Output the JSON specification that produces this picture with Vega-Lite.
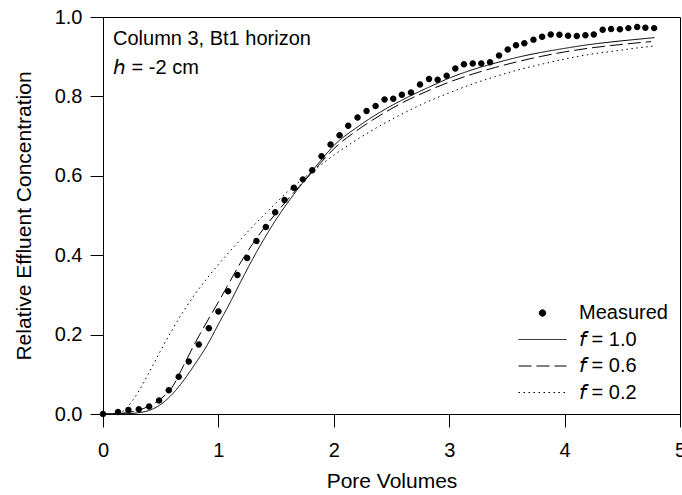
{
  "$schema": "https://vega.github.io/schema/vega-lite/v6.json",
  "width": 577,
  "height": 397,
  "autosize": {"type": "none"},
  "padding": {"left": 103, "top": 17, "right": 2, "bottom": 81},
  "background": "white",
  "title": {
    "text": "Column 3, Bt1 horizon",
    "subtitle": "𝘩 = -2 cm",
    "anchor": "start",
    "frame": "group",
    "orient": "top",
    "offset": -71,
    "dx": 10,
    "font": "Liberation Sans",
    "fontSize": 20,
    "fontWeight": "normal",
    "color": "black",
    "subtitleFont": "Liberation Sans",
    "subtitleFontSize": 20,
    "subtitleColor": "black",
    "subtitlePadding": 9
  },
  "config": {
    "view": {"stroke": "black", "strokeWidth": 1},
    "axis": {
      "grid": false,
      "domainColor": "black",
      "domainWidth": 1,
      "tickColor": "black",
      "tickSize": 13,
      "tickWidth": 1,
      "labelColor": "black",
      "labelFont": "Liberation Sans",
      "labelFontSize": 20,
      "titleFont": "Liberation Sans",
      "titleFontSize": 21,
      "titleFontWeight": "normal",
      "titleColor": "black"
    },
    "legend": {
      "labelFont": "Liberation Sans",
      "labelFontSize": 20,
      "labelColor": "black"
    }
  },
  "datasets": {
    "measured": [
      {"pv": 0, "c": 0, "series": "Measured"},
      {"pv": 0.13, "c": 0.005, "series": "Measured"},
      {"pv": 0.22, "c": 0.01, "series": "Measured"},
      {"pv": 0.31, "c": 0.012, "series": "Measured"},
      {"pv": 0.40, "c": 0.019, "series": "Measured"},
      {"pv": 0.486, "c": 0.034, "series": "Measured"},
      {"pv": 0.57, "c": 0.06, "series": "Measured"},
      {"pv": 0.656, "c": 0.094, "series": "Measured"},
      {"pv": 0.743, "c": 0.132, "series": "Measured"},
      {"pv": 0.83, "c": 0.175, "series": "Measured"},
      {"pv": 0.917, "c": 0.216, "series": "Measured"},
      {"pv": 1.0, "c": 0.258, "series": "Measured"},
      {"pv": 1.084, "c": 0.309, "series": "Measured"},
      {"pv": 1.165, "c": 0.35, "series": "Measured"},
      {"pv": 1.249, "c": 0.393, "series": "Measured"},
      {"pv": 1.33, "c": 0.436, "series": "Measured"},
      {"pv": 1.411, "c": 0.471, "series": "Measured"},
      {"pv": 1.492, "c": 0.508, "series": "Measured"},
      {"pv": 1.573, "c": 0.539, "series": "Measured"},
      {"pv": 1.654, "c": 0.57, "series": "Measured"},
      {"pv": 1.732, "c": 0.591, "series": "Measured"},
      {"pv": 1.813, "c": 0.614, "series": "Measured"},
      {"pv": 1.894, "c": 0.649, "series": "Measured"},
      {"pv": 1.972, "c": 0.679, "series": "Measured"},
      {"pv": 2.05, "c": 0.702, "series": "Measured"},
      {"pv": 2.125, "c": 0.726, "series": "Measured"},
      {"pv": 2.206, "c": 0.747, "series": "Measured"},
      {"pv": 2.284, "c": 0.763, "series": "Measured"},
      {"pv": 2.362, "c": 0.776, "series": "Measured"},
      {"pv": 2.44, "c": 0.792, "series": "Measured"},
      {"pv": 2.515, "c": 0.794, "series": "Measured"},
      {"pv": 2.59, "c": 0.804, "series": "Measured"},
      {"pv": 2.669, "c": 0.81, "series": "Measured"},
      {"pv": 2.747, "c": 0.83, "series": "Measured"},
      {"pv": 2.825, "c": 0.844, "series": "Measured"},
      {"pv": 2.9, "c": 0.842, "series": "Measured"},
      {"pv": 2.978, "c": 0.852, "series": "Measured"},
      {"pv": 3.053, "c": 0.87, "series": "Measured"},
      {"pv": 3.128, "c": 0.881, "series": "Measured"},
      {"pv": 3.204, "c": 0.883, "series": "Measured"},
      {"pv": 3.278, "c": 0.883, "series": "Measured"},
      {"pv": 3.354, "c": 0.886, "series": "Measured"},
      {"pv": 3.432, "c": 0.903, "series": "Measured"},
      {"pv": 3.507, "c": 0.918, "series": "Measured"},
      {"pv": 3.579, "c": 0.929, "series": "Measured"},
      {"pv": 3.651, "c": 0.934, "series": "Measured"},
      {"pv": 3.73, "c": 0.943, "series": "Measured"},
      {"pv": 3.805, "c": 0.95, "series": "Measured"},
      {"pv": 3.88, "c": 0.956, "series": "Measured"},
      {"pv": 3.955, "c": 0.955, "series": "Measured"},
      {"pv": 4.03, "c": 0.953, "series": "Measured"},
      {"pv": 4.106, "c": 0.952, "series": "Measured"},
      {"pv": 4.18, "c": 0.954, "series": "Measured"},
      {"pv": 4.253, "c": 0.956, "series": "Measured"},
      {"pv": 4.33, "c": 0.968, "series": "Measured"},
      {"pv": 4.403, "c": 0.97, "series": "Measured"},
      {"pv": 4.479, "c": 0.969, "series": "Measured"},
      {"pv": 4.553, "c": 0.972, "series": "Measured"},
      {"pv": 4.629, "c": 0.975, "series": "Measured"},
      {"pv": 4.7, "c": 0.973, "series": "Measured"},
      {"pv": 4.776, "c": 0.972, "series": "Measured"}
    ],
    "model": [
      {"pv": 0, "c": 0, "series": "𝘧 = 1.0"},
      {"pv": 0.1, "c": 0, "series": "𝘧 = 1.0"},
      {"pv": 0.2, "c": 0.0005, "series": "𝘧 = 1.0"},
      {"pv": 0.3, "c": 0.003, "series": "𝘧 = 1.0"},
      {"pv": 0.4, "c": 0.009, "series": "𝘧 = 1.0"},
      {"pv": 0.5, "c": 0.024, "series": "𝘧 = 1.0"},
      {"pv": 0.6, "c": 0.05, "series": "𝘧 = 1.0"},
      {"pv": 0.7, "c": 0.085, "series": "𝘧 = 1.0"},
      {"pv": 0.8, "c": 0.127, "series": "𝘧 = 1.0"},
      {"pv": 0.9, "c": 0.172, "series": "𝘧 = 1.0"},
      {"pv": 1.0, "c": 0.226, "series": "𝘧 = 1.0"},
      {"pv": 1.1, "c": 0.28, "series": "𝘧 = 1.0"},
      {"pv": 1.2, "c": 0.337, "series": "𝘧 = 1.0"},
      {"pv": 1.3, "c": 0.392, "series": "𝘧 = 1.0"},
      {"pv": 1.4, "c": 0.443, "series": "𝘧 = 1.0"},
      {"pv": 1.5, "c": 0.49, "series": "𝘧 = 1.0"},
      {"pv": 1.6, "c": 0.532, "series": "𝘧 = 1.0"},
      {"pv": 1.7, "c": 0.571, "series": "𝘧 = 1.0"},
      {"pv": 1.8, "c": 0.608, "series": "𝘧 = 1.0"},
      {"pv": 1.9, "c": 0.643, "series": "𝘧 = 1.0"},
      {"pv": 2.0, "c": 0.676, "series": "𝘧 = 1.0"},
      {"pv": 2.2, "c": 0.722, "series": "𝘧 = 1.0"},
      {"pv": 2.4, "c": 0.76, "series": "𝘧 = 1.0"},
      {"pv": 2.6, "c": 0.792, "series": "𝘧 = 1.0"},
      {"pv": 2.8, "c": 0.82, "series": "𝘧 = 1.0"},
      {"pv": 3.0, "c": 0.846, "series": "𝘧 = 1.0"},
      {"pv": 3.2, "c": 0.867, "series": "𝘧 = 1.0"},
      {"pv": 3.4, "c": 0.884, "series": "𝘧 = 1.0"},
      {"pv": 3.6, "c": 0.899, "series": "𝘧 = 1.0"},
      {"pv": 3.8, "c": 0.911, "series": "𝘧 = 1.0"},
      {"pv": 4.0, "c": 0.921, "series": "𝘧 = 1.0"},
      {"pv": 4.2, "c": 0.93, "series": "𝘧 = 1.0"},
      {"pv": 4.4, "c": 0.937, "series": "𝘧 = 1.0"},
      {"pv": 4.6, "c": 0.943, "series": "𝘧 = 1.0"},
      {"pv": 4.78, "c": 0.948, "series": "𝘧 = 1.0"},
      {"pv": 0, "c": 0, "series": "𝘧 = 0.6"},
      {"pv": 0.1, "c": 0.0005, "series": "𝘧 = 0.6"},
      {"pv": 0.2, "c": 0.003, "series": "𝘧 = 0.6"},
      {"pv": 0.3, "c": 0.009, "series": "𝘧 = 0.6"},
      {"pv": 0.4, "c": 0.02, "series": "𝘧 = 0.6"},
      {"pv": 0.5, "c": 0.038, "series": "𝘧 = 0.6"},
      {"pv": 0.6, "c": 0.068, "series": "𝘧 = 0.6"},
      {"pv": 0.7, "c": 0.123, "series": "𝘧 = 0.6"},
      {"pv": 0.8, "c": 0.18, "series": "𝘧 = 0.6"},
      {"pv": 0.9, "c": 0.232, "series": "𝘧 = 0.6"},
      {"pv": 1.0, "c": 0.282, "series": "𝘧 = 0.6"},
      {"pv": 1.1, "c": 0.334, "series": "𝘧 = 0.6"},
      {"pv": 1.2, "c": 0.385, "series": "𝘧 = 0.6"},
      {"pv": 1.3, "c": 0.43, "series": "𝘧 = 0.6"},
      {"pv": 1.4, "c": 0.47, "series": "𝘧 = 0.6"},
      {"pv": 1.5, "c": 0.506, "series": "𝘧 = 0.6"},
      {"pv": 1.6, "c": 0.54, "series": "𝘧 = 0.6"},
      {"pv": 1.7, "c": 0.573, "series": "𝘧 = 0.6"},
      {"pv": 1.8, "c": 0.605, "series": "𝘧 = 0.6"},
      {"pv": 1.9, "c": 0.637, "series": "𝘧 = 0.6"},
      {"pv": 2.0, "c": 0.668, "series": "𝘧 = 0.6"},
      {"pv": 2.2, "c": 0.714, "series": "𝘧 = 0.6"},
      {"pv": 2.4, "c": 0.752, "series": "𝘧 = 0.6"},
      {"pv": 2.6, "c": 0.785, "series": "𝘧 = 0.6"},
      {"pv": 2.8, "c": 0.812, "series": "𝘧 = 0.6"},
      {"pv": 3.0, "c": 0.836, "series": "𝘧 = 0.6"},
      {"pv": 3.2, "c": 0.856, "series": "𝘧 = 0.6"},
      {"pv": 3.4, "c": 0.873, "series": "𝘧 = 0.6"},
      {"pv": 3.6, "c": 0.888, "series": "𝘧 = 0.6"},
      {"pv": 3.8, "c": 0.901, "series": "𝘧 = 0.6"},
      {"pv": 4.0, "c": 0.912, "series": "𝘧 = 0.6"},
      {"pv": 4.2, "c": 0.921, "series": "𝘧 = 0.6"},
      {"pv": 4.4, "c": 0.928, "series": "𝘧 = 0.6"},
      {"pv": 4.6, "c": 0.934, "series": "𝘧 = 0.6"},
      {"pv": 4.75, "c": 0.938, "series": "𝘧 = 0.6"},
      {"pv": 0, "c": 0, "series": "𝘧 = 0.2"},
      {"pv": 0.1, "c": 0, "series": "𝘧 = 0.2"},
      {"pv": 0.15, "c": 0.003, "series": "𝘧 = 0.2"},
      {"pv": 0.2, "c": 0.014, "series": "𝘧 = 0.2"},
      {"pv": 0.3, "c": 0.053, "series": "𝘧 = 0.2"},
      {"pv": 0.4, "c": 0.105, "series": "𝘧 = 0.2"},
      {"pv": 0.5, "c": 0.16, "series": "𝘧 = 0.2"},
      {"pv": 0.6, "c": 0.212, "series": "𝘧 = 0.2"},
      {"pv": 0.7, "c": 0.26, "series": "𝘧 = 0.2"},
      {"pv": 0.8, "c": 0.303, "series": "𝘧 = 0.2"},
      {"pv": 0.9, "c": 0.341, "series": "𝘧 = 0.2"},
      {"pv": 1.0, "c": 0.377, "series": "𝘧 = 0.2"},
      {"pv": 1.1, "c": 0.41, "series": "𝘧 = 0.2"},
      {"pv": 1.2, "c": 0.442, "series": "𝘧 = 0.2"},
      {"pv": 1.3, "c": 0.473, "series": "𝘧 = 0.2"},
      {"pv": 1.4, "c": 0.503, "series": "𝘧 = 0.2"},
      {"pv": 1.5, "c": 0.532, "series": "𝘧 = 0.2"},
      {"pv": 1.6, "c": 0.56, "series": "𝘧 = 0.2"},
      {"pv": 1.7, "c": 0.585, "series": "𝘧 = 0.2"},
      {"pv": 1.8, "c": 0.608, "series": "𝘧 = 0.2"},
      {"pv": 1.9, "c": 0.63, "series": "𝘧 = 0.2"},
      {"pv": 2.0, "c": 0.652, "series": "𝘧 = 0.2"},
      {"pv": 2.2, "c": 0.691, "series": "𝘧 = 0.2"},
      {"pv": 2.4, "c": 0.726, "series": "𝘧 = 0.2"},
      {"pv": 2.6, "c": 0.757, "series": "𝘧 = 0.2"},
      {"pv": 2.8, "c": 0.785, "series": "𝘧 = 0.2"},
      {"pv": 3.0, "c": 0.809, "series": "𝘧 = 0.2"},
      {"pv": 3.2, "c": 0.831, "series": "𝘧 = 0.2"},
      {"pv": 3.4, "c": 0.85, "series": "𝘧 = 0.2"},
      {"pv": 3.6, "c": 0.867, "series": "𝘧 = 0.2"},
      {"pv": 3.8, "c": 0.881, "series": "𝘧 = 0.2"},
      {"pv": 4.0, "c": 0.894, "series": "𝘧 = 0.2"},
      {"pv": 4.2, "c": 0.905, "series": "𝘧 = 0.2"},
      {"pv": 4.4, "c": 0.913, "series": "𝘧 = 0.2"},
      {"pv": 4.6, "c": 0.921, "series": "𝘧 = 0.2"},
      {"pv": 4.78, "c": 0.927, "series": "𝘧 = 0.2"}
    ]
  },
  "encoding": {
    "x": {
      "field": "pv",
      "type": "quantitative",
      "title": "Pore Volumes",
      "scale": {"domain": [0, 5], "nice": false, "zero": false},
      "axis": {"values": [0, 1, 2, 3, 4, 5], "format": "d", "labelFlush": false, "labelBound": false, "labelOverlap": false, "labelPadding": 13, "titlePadding": 10}
    },
    "y": {
      "field": "c",
      "type": "quantitative",
      "title": "Relative Effluent Concentration",
      "scale": {"domain": [0, 1], "nice": false},
      "axis": {"values": [0, 0.2, 0.4, 0.6, 0.8, 1.0], "format": ".1f", "labelPadding": 8, "titlePadding": 20, "labelOverlap": false}
    }
  },
  "layer": [
    {
      "data": {"name": "model"},
      "mark": {"type": "line", "color": "black", "strokeWidth": 1, "interpolate": "monotone"},
      "encoding": {
        "detail": {"field": "series", "type": "nominal"},
        "strokeDash": {
          "field": "series",
          "type": "nominal",
          "scale": {
            "domain": ["Measured", "𝘧 = 1.0", "𝘧 = 0.6", "𝘧 = 0.2"],
            "range": [[1, 0], [1, 0], [13, 5], [1.5, 3.5]]
          },
          "legend": {
            "title": null,
            "orient": "none",
            "legendX": 415,
            "legendY": 286,
            "padding": 0,
            "rowPadding": 6.5,
            "clipHeight": 20,
            "labelOffset": 12,
            "symbolSize": 2304,
            "symbolStrokeWidth": 1,
            "symbolStrokeColor": "black",
            "symbolFillColor": "black",
            "labelFontSize": 20,
            "encode": {
              "symbols": {
                "update": {
                  "stroke": {"value": "black"},
                  "strokeWidth": {"value": 1},
                  "fill": {"value": "black"},
                  "opacity": {"value": 1}
                }
              }
            }
          }
        }
      }
    },
    {
      "data": {"name": "measured"},
      "mark": {"type": "point", "filled": true, "color": "black", "opacity": 1, "size": 2304},
      "encoding": {
        "shape": {
          "field": "series",
          "type": "nominal",
          "scale": {
            "domain": ["Measured", "𝘧 = 1.0", "𝘧 = 0.6", "𝘧 = 0.2"],
            "range": [
              "M-0.135,0A0.135,0.135,0,1,0,0.135,0A0.135,0.135,0,1,0,-0.135,0Z",
              "M-1,0H1",
              "M-1,0H1",
              "M-1,0H1"
            ]
          },
          "legend": {
            "title": null,
            "orient": "none",
            "legendX": 415,
            "legendY": 286,
            "padding": 0,
            "rowPadding": 6.5,
            "clipHeight": 20,
            "labelOffset": 12,
            "symbolSize": 2304,
            "symbolStrokeWidth": 1,
            "symbolStrokeColor": "black",
            "symbolFillColor": "black",
            "labelFontSize": 20,
            "encode": {
              "symbols": {
                "update": {
                  "stroke": {"value": "black"},
                  "strokeWidth": {"value": 1},
                  "fill": {"value": "black"},
                  "opacity": {"value": 1}
                }
              }
            }
          }
        }
      }
    }
  ]
}
